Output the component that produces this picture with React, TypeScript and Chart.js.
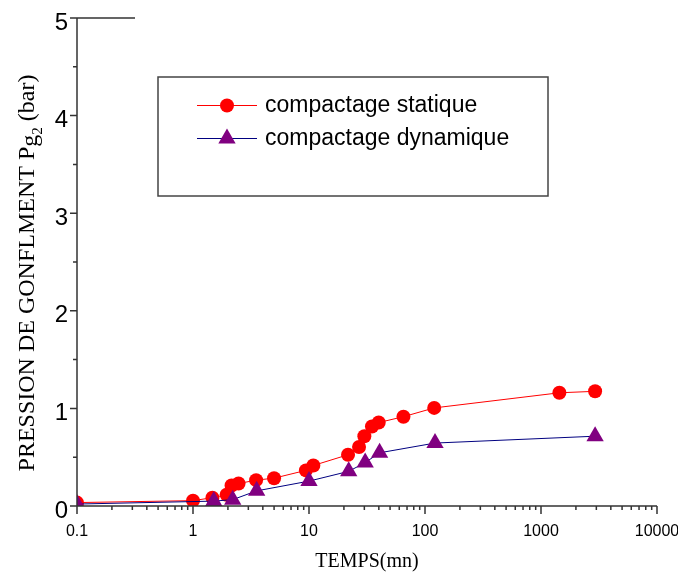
import React, { useEffect, useRef } from 'react';
import { Chart, registerables } from 'chart.js';

Chart.register(...registerables);

// ---- data ----
const staticTimes = [0.1, 1, 1.47, 1.95, 2.15, 2.47, 3.5, 5, 9.4, 10.9, 21.7, 27, 30, 34.9, 39.9, 65.2, 120, 1440, 2927];
const staticPressure = [0.035, 0.055, 0.085, 0.115, 0.21, 0.23, 0.265, 0.285, 0.365, 0.415, 0.525, 0.605, 0.715, 0.815, 0.855, 0.915, 1.005, 1.16, 1.175];
const dynamicTimes = [0.1, 1.51, 2.2, 3.54, 10, 22, 30.5, 40.6, 122, 2927];
const dynamicPressure = [0.02, 0.05, 0.065, 0.155, 0.255, 0.355, 0.445, 0.545, 0.645, 0.715];
const seriesLabels = ['compactage statique', 'compactage dynamique'];
const xDecadeTicks = [0.1, 1, 10, 100, 1000, 10000];
const xMinorMultipliers = [2, 3, 4, 5, 6, 7, 8, 9];
const yMajorTicks = [0, 1, 2, 3, 4, 5];
const yMinorTicks = [0.5, 1.5, 2.5, 3.5, 4.5];
const xTitle = 'TEMPS(mn)';
const yTitleMain = 'PRESSION DE GONFLMENT P';
const yTitleSub = 'g';
const yTitleSubSub = '2';
const yTitleUnit = ' (bar)';

const AXIS_COLOR = '#333333';
const SERIF = '"Liberation Serif", "Times New Roman", serif';
const SANS = '"Liberation Sans", Arial, sans-serif';

const decorPlugin = {
  id: 'decor',
  afterDraw(chart: any) {
    const { ctx, chartArea: ca, scales } = chart;
    const xs = scales.x;
    const ys = scales.y;
    ctx.save();
    // axes
    ctx.strokeStyle = AXIS_COLOR;
    ctx.lineWidth = 1.5;
    ctx.beginPath();
    ctx.moveTo(ca.left, ca.top);
    ctx.lineTo(ca.left, ca.bottom);
    ctx.lineTo(ca.right, ca.bottom);
    ctx.moveTo(ca.left, ca.top);
    ctx.lineTo(ca.left + 58, ca.top);
    // x ticks
    xDecadeTicks.forEach((d, i) => {
      const p = xs.getPixelForValue(d);
      ctx.moveTo(p, ca.bottom);
      ctx.lineTo(p, ca.bottom + 8);
      if (i < xDecadeTicks.length - 1) {
        xMinorMultipliers.forEach((m) => {
          const q = xs.getPixelForValue(d * m);
          ctx.moveTo(q, ca.bottom);
          ctx.lineTo(q, ca.bottom + 4);
        });
      }
    });
    // y ticks
    yMajorTicks.forEach((v) => {
      const p = ys.getPixelForValue(v);
      ctx.moveTo(ca.left, p);
      ctx.lineTo(ca.left - 7, p);
    });
    yMinorTicks.forEach((v) => {
      const p = ys.getPixelForValue(v);
      ctx.moveTo(ca.left, p);
      ctx.lineTo(ca.left - 4, p);
    });
    ctx.stroke();

    // x title
    ctx.fillStyle = '#000';
    ctx.font = `20px ${SERIF}`;
    ctx.textAlign = 'center';
    ctx.textBaseline = 'alphabetic';
    ctx.fillText(xTitle, (ca.left + ca.right) / 2, 567);

    // y title (rotated, with subscripts)
    ctx.save();
    ctx.translate(34, 273);
    ctx.rotate(-Math.PI / 2);
    ctx.textAlign = 'left';
    const mainFont = `24px ${SERIF}`;
    const subFont = `15px ${SERIF}`;
    ctx.font = mainFont;
    const w1 = ctx.measureText(yTitleMain).width;
    const wg = ctx.measureText(yTitleSub).width;
    const wu = ctx.measureText(yTitleUnit).width;
    ctx.font = subFont;
    const w2 = ctx.measureText(yTitleSubSub).width;
    const total = w1 + wg + w2 + wu;
    const x0 = -total / 2;
    ctx.font = mainFont;
    ctx.fillText(yTitleMain, x0, 0);
    ctx.fillText(yTitleSub, x0 + w1, 3);
    ctx.font = subFont;
    ctx.fillText(yTitleSubSub, x0 + w1 + wg, 8);
    ctx.font = mainFont;
    ctx.fillText(yTitleUnit, x0 + w1 + wg + w2, 0);
    ctx.restore();

    // legend box
    ctx.fillStyle = '#fff';
    ctx.fillRect(158, 77, 390, 119);
    ctx.strokeStyle = '#444';
    ctx.lineWidth = 1.5;
    ctx.strokeRect(158, 77, 390, 119);
    const ds = chart.data.datasets;
    const rows = [105.5, 138.5];
    rows.forEach((y, i) => {
      const d = ds[i];
      ctx.strokeStyle = d.borderColor;
      ctx.lineWidth = 1;
      ctx.beginPath();
      ctx.moveTo(197, y);
      ctx.lineTo(257, y);
      ctx.stroke();
      ctx.fillStyle = d.pointBackgroundColor;
      ctx.beginPath();
      const cx = 227;
      const r = d.pointRadius;
      if (d.pointStyle === 'triangle') {
        let a = 0;
        ctx.moveTo(cx + Math.sin(a) * r, y - Math.cos(a) * r);
        a += (2 * Math.PI) / 3;
        ctx.lineTo(cx + Math.sin(a) * r, y - Math.cos(a) * r);
        a += (2 * Math.PI) / 3;
        ctx.lineTo(cx + Math.sin(a) * r, y - Math.cos(a) * r);
        ctx.closePath();
      } else {
        ctx.arc(cx, y, r, 0, Math.PI * 2);
      }
      ctx.fill();
      ctx.fillStyle = '#000';
      ctx.font = `23px ${SANS}`;
      ctx.textAlign = 'left';
      ctx.textBaseline = 'middle';
      ctx.fillText(d.label, 265, y);
    });
    ctx.restore();
  },
};

export default function App() {
  const ref = useRef<HTMLCanvasElement>(null);
  useEffect(() => {
    const chart = new Chart(ref.current as HTMLCanvasElement, {
      type: 'scatter',
      data: {
        datasets: [
          {
            label: seriesLabels[0],
            data: staticTimes.map((t, i) => ({ x: t, y: staticPressure[i] })),
            showLine: true,
            borderColor: '#ff0000',
            borderWidth: 1,
            backgroundColor: '#ff0000',
            pointStyle: 'circle',
            pointRadius: 7,
            pointBorderWidth: 0,
            pointBackgroundColor: '#ff0000',
            pointBorderColor: '#ff0000',
            order: 1,
          },
          {
            label: seriesLabels[1],
            data: dynamicTimes.map((t, i) => ({ x: t, y: dynamicPressure[i] })),
            showLine: true,
            borderColor: '#000080',
            borderWidth: 1,
            backgroundColor: '#800080',
            pointStyle: 'triangle',
            pointRadius: 10,
            pointBorderWidth: 0,
            pointBackgroundColor: '#800080',
            pointBorderColor: '#800080',
            order: 0,
          },
        ],
      },
      options: {
        responsive: false,
        animation: false,
        layout: { padding: { top: 18, right: 21, left: 0, bottom: 0 } },
        plugins: { legend: { display: false }, tooltip: { enabled: false } },
        scales: {
          x: {
            type: 'logarithmic',
            min: 0.1,
            max: 10000,
            position: 'bottom',
            afterBuildTicks: (s: any) => {
              s.ticks = xDecadeTicks.map((v) => ({ value: v }));
            },
            afterFit: (s: any) => {
              s.height = 68;
              s.paddingLeft = 0;
              s.paddingRight = 0;
            },
            grid: { display: false, drawTicks: true, tickLength: 8 },
            border: { display: false },
            ticks: {
              autoSkip: false,
              maxRotation: 0,
              padding: 8,
              color: '#000',
              font: { family: SANS, size: 16 },
              callback: (v: any) => String(v),
            },
          },
          y: {
            type: 'linear',
            min: 0,
            max: 5,
            position: 'left',
            afterBuildTicks: (s: any) => {
              s.ticks = yMajorTicks.map((v) => ({ value: v }));
            },
            afterFit: (s: any) => {
              s.width = 77;
              s.paddingTop = 0;
              s.paddingBottom = 0;
            },
            grid: { display: false, drawTicks: true, tickLength: 7 },
            border: { display: false },
            ticks: {
              autoSkip: false,
              padding: 2,
              labelOffset: 5,
              color: '#000',
              font: { family: SANS, size: 24 },
              callback: (v: any) => String(v),
            },
          },
        },
      },
      plugins: [decorPlugin],
    } as any);
    return () => chart.destroy();
  }, []);
  return (
    <div style={{ position: 'absolute', left: 0, top: 0, width: 678, height: 574, background: '#fff' }}>
      <canvas ref={ref} width={678} height={574} style={{ display: 'block' }} />
    </div>
  );
}
